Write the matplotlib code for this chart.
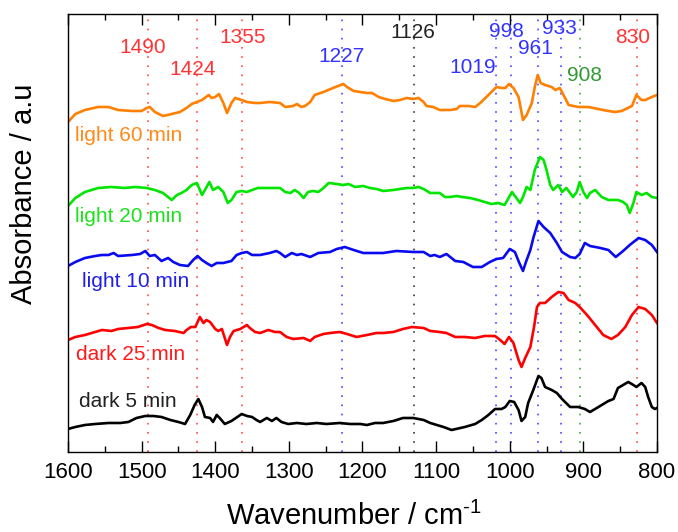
import matplotlib
matplotlib.use("Agg")
import matplotlib.pyplot as plt

plt.rcParams["font.family"] = ["Liberation Sans", "DejaVu Sans"]
plt.rcParams["mathtext.default"] = "regular"

# ---- spectra (wavenumber / cm-1, absorbance in a.u. incl. stacking offset) ----
wn_light60 = [1600, 1590, 1577, 1559, 1545, 1532, 1513, 1500, 1493, 1489, 1482, 1471, 1459, 1448, 1439,
              1432, 1425, 1418, 1409, 1405, 1400, 1395, 1389, 1384, 1378, 1373, 1364, 1357, 1346, 1339,
              1326, 1312, 1305, 1294, 1289, 1283, 1278, 1271, 1265, 1253, 1240, 1226, 1221, 1212, 1203,
              1194, 1187, 1178, 1169, 1158, 1149, 1140, 1131, 1124, 1117, 1113, 1104, 1095, 1081, 1072,
              1068, 1056, 1047, 1040, 1029, 1018, 1011, 1006, 1001, 995, 988, 982, 977, 970, 966,
              962, 958, 952, 943, 938, 932, 927, 920, 907, 893, 880, 866, 857, 848, 834,
              828, 821, 816, 807, 800]
ab_light60 = [3.30, 3.38, 3.42, 3.45, 3.45, 3.42, 3.41, 3.41, 3.44, 3.45, 3.40, 3.36, 3.38, 3.40, 3.44,
              3.48, 3.50, 3.52, 3.57, 3.54, 3.55, 3.58, 3.49, 3.39, 3.49, 3.54, 3.52, 3.50, 3.49, 3.49,
              3.50, 3.49, 3.45, 3.46, 3.48, 3.45, 3.46, 3.50, 3.57, 3.60, 3.64, 3.68, 3.65, 3.61, 3.60,
              3.59, 3.59, 3.55, 3.53, 3.51, 3.52, 3.54, 3.53, 3.54, 3.50, 3.46, 3.45, 3.42, 3.42, 3.43,
              3.46, 3.46, 3.45, 3.49, 3.57, 3.65, 3.64, 3.64, 3.68, 3.64, 3.55, 3.32, 3.37, 3.49, 3.65,
              3.77, 3.69, 3.67, 3.65, 3.62, 3.64, 3.57, 3.47, 3.45, 3.45, 3.43, 3.41, 3.40, 3.41, 3.46,
              3.57, 3.52, 3.52, 3.55, 3.57]

wn_light20 = [1600, 1590, 1577, 1559, 1541, 1523, 1509, 1493, 1482, 1471, 1459, 1452, 1446, 1439, 1432,
              1425, 1418, 1414, 1408, 1403, 1396, 1389, 1383, 1378, 1371, 1364, 1357, 1350, 1342, 1326,
              1312, 1305, 1298, 1292, 1286, 1280, 1274, 1267, 1260, 1253, 1246, 1235, 1226, 1219, 1210,
              1199, 1190, 1181, 1172, 1158, 1149, 1140, 1131, 1124, 1117, 1108, 1095, 1088, 1081, 1072,
              1065, 1054, 1043, 1034, 1025, 1016, 1007, 1003, 997, 991, 986, 982, 977, 972, 966,
              959, 954, 950, 945, 941, 934, 929, 923, 914, 909, 905, 900, 895, 891, 884,
              875, 866, 853, 846, 841, 837, 832, 828, 821, 814, 807, 800]
ab_light20 = [2.46, 2.54, 2.60, 2.64, 2.65, 2.64, 2.65, 2.64, 2.62, 2.59, 2.52, 2.57, 2.59, 2.62, 2.67,
              2.69, 2.57, 2.62, 2.70, 2.62, 2.65, 2.60, 2.49, 2.52, 2.60, 2.61, 2.60, 2.62, 2.64, 2.64,
              2.64, 2.60, 2.59, 2.62, 2.59, 2.54, 2.60, 2.61, 2.60, 2.64, 2.69, 2.68, 2.67, 2.68, 2.65,
              2.66, 2.64, 2.63, 2.61, 2.62, 2.63, 2.64, 2.64, 2.65, 2.63, 2.59, 2.59, 2.55, 2.55, 2.56,
              2.55, 2.54, 2.52, 2.50, 2.48, 2.49, 2.47, 2.52, 2.60, 2.54, 2.49, 2.55, 2.65, 2.62, 2.82,
              2.95, 2.92, 2.82, 2.67, 2.62, 2.67, 2.60, 2.64, 2.55, 2.60, 2.70, 2.60, 2.54, 2.59, 2.62,
              2.55, 2.52, 2.52, 2.50, 2.47, 2.39, 2.49, 2.60, 2.57, 2.59, 2.55, 2.54]

wn_light10 = [1600, 1590, 1577, 1563, 1554, 1545, 1538, 1532, 1513, 1502, 1495, 1489, 1482, 1473, 1464,
              1457, 1448, 1437, 1430, 1424, 1418, 1412, 1405, 1398, 1389, 1378, 1371, 1364, 1357, 1350,
              1339, 1326, 1317, 1312, 1305, 1296, 1289, 1283, 1271, 1260, 1244, 1235, 1224, 1212, 1199,
              1185, 1172, 1154, 1131, 1117, 1108, 1102, 1095, 1086, 1074, 1063, 1050, 1038, 1027, 1018,
              1009, 1000, 993, 987, 982, 978, 972, 968, 961, 954, 945, 936, 929, 918, 911,
              905, 898, 891, 877, 866, 856, 846, 837, 825, 816, 807, 800]
ab_light10 = [1.86, 1.90, 1.94, 1.96, 1.97, 1.97, 1.99, 1.96, 1.97, 1.98, 2.01, 1.96, 1.97, 1.91, 1.94,
              1.90, 1.87, 1.86, 1.92, 1.96, 1.92, 1.89, 1.86, 1.89, 1.89, 1.91, 1.97, 1.99, 2.00, 1.97,
              1.97, 1.99, 2.01, 1.99, 1.95, 1.99, 1.97, 1.98, 1.95, 1.99, 2.00, 2.03, 2.05, 2.02, 1.99,
              1.99, 1.99, 2.01, 2.00, 2.00, 1.96, 1.97, 1.95, 1.98, 1.91, 1.90, 1.85, 1.85, 1.90, 1.93,
              1.94, 2.03, 2.00, 1.89, 1.81, 1.90, 2.02, 2.14, 2.31, 2.25, 2.19, 2.09, 2.00, 1.95, 1.94,
              1.98, 2.09, 2.06, 2.04, 2.02, 1.95, 2.01, 2.07, 2.14, 2.12, 2.07, 2.00]

wn_dark25 = [1600, 1590, 1577, 1563, 1554, 1541, 1532, 1518, 1505, 1493, 1486, 1477, 1468, 1455, 1443,
             1439, 1433, 1427, 1421, 1416, 1412, 1407, 1400, 1396, 1391, 1384, 1380, 1375, 1366, 1357,
             1353, 1346, 1339, 1328, 1319, 1312, 1303, 1294, 1280, 1271, 1265, 1253, 1244, 1231, 1221,
             1208, 1194, 1181, 1172, 1158, 1145, 1133, 1117, 1108, 1095, 1086, 1074, 1061, 1047, 1034,
             1020, 1013, 1007, 1001, 995, 988, 984, 979, 972, 967, 963, 959, 952, 943, 934,
             927, 920, 911, 905, 895, 884, 873, 862, 853, 843, 834, 825, 816, 807, 800]
ab_dark25 = [1.12, 1.15, 1.17, 1.20, 1.22, 1.21, 1.23, 1.24, 1.25, 1.28, 1.27, 1.24, 1.22, 1.21, 1.19,
             1.22, 1.25, 1.25, 1.35, 1.29, 1.32, 1.30, 1.23, 1.21, 1.23, 1.07, 1.15, 1.21, 1.23, 1.27,
             1.24, 1.20, 1.19, 1.22, 1.20, 1.20, 1.15, 1.13, 1.14, 1.11, 1.15, 1.18, 1.19, 1.20, 1.18,
             1.15, 1.17, 1.19, 1.19, 1.20, 1.23, 1.25, 1.24, 1.21, 1.20, 1.19, 1.15, 1.15, 1.14, 1.16,
             1.16, 1.12, 1.08, 1.15, 1.09, 0.92, 0.85, 0.94, 1.05, 1.25, 1.45, 1.49, 1.49, 1.55, 1.60,
             1.59, 1.52, 1.49, 1.45, 1.37, 1.27, 1.17, 1.13, 1.17, 1.25, 1.37, 1.45, 1.43, 1.37, 1.29]

wn_dark5 = [1600, 1590, 1577, 1563, 1545, 1529, 1518, 1507, 1495, 1484, 1473, 1461, 1450, 1441, 1434,
            1428, 1423, 1418, 1414, 1407, 1403, 1398, 1394, 1387, 1378, 1364, 1357, 1350, 1344, 1339,
            1330, 1323, 1317, 1310, 1301, 1289, 1276, 1262, 1249, 1231, 1217, 1203, 1194, 1183, 1172,
            1158, 1145, 1131, 1117, 1108, 1099, 1090, 1079, 1061, 1047, 1038, 1029, 1020, 1011, 1006,
            1000, 994, 988, 984, 979, 975, 968, 961, 957, 952, 943, 936, 929, 918, 907,
            898, 891, 884, 875, 866, 859, 853, 846, 839, 832, 828, 821, 816, 812, 807,
            803, 800]
ab_dark5 = [0.23, 0.25, 0.27, 0.28, 0.29, 0.29, 0.30, 0.34, 0.36, 0.36, 0.35, 0.32, 0.30, 0.28, 0.37,
            0.47, 0.53, 0.45, 0.35, 0.34, 0.30, 0.37, 0.34, 0.28, 0.31, 0.38, 0.36, 0.35, 0.32, 0.30,
            0.34, 0.31, 0.34, 0.30, 0.28, 0.29, 0.28, 0.29, 0.28, 0.29, 0.28, 0.28, 0.27, 0.29, 0.29,
            0.31, 0.34, 0.34, 0.32, 0.29, 0.27, 0.25, 0.22, 0.25, 0.28, 0.32, 0.37, 0.43, 0.43, 0.45,
            0.51, 0.50, 0.42, 0.31, 0.35, 0.49, 0.62, 0.76, 0.74, 0.65, 0.62, 0.59, 0.53, 0.45, 0.45,
            0.43, 0.40, 0.43, 0.47, 0.51, 0.53, 0.64, 0.67, 0.70, 0.67, 0.65, 0.69, 0.65, 0.55, 0.45,
            0.43, 0.44]

# curve names and where their labels sit (left edge wavenumber, centre absorbance)
curve_names = ["light 60 min", "light 20 min", "light 10 min", "dark 25 min", "dark 5 min"]
curve_colors = ["#ff8000", "#00e600", "#0a0af0", "#ff0000", "#000000"]
name_colors = ["#ff8a1a", "#1ee01e", "#2020e6", "#ff1a1a", "#222222"]
name_x = [1590, 1590, 1581, 1589, 1585]
name_y = [3.16, 2.35, 1.70, 0.97, 0.50]

# assigned bands: dotted marker lines and their labels
band_labels = ["1490", "1424", "1355", "1227", "1126", "1019", "998", "961", "933", "908", "830"]
band_lines = [1492, 1425, 1363, 1228, 1130, 1018, 998, 962, 931, 905, 827]
band_colors = ["#ff3333", "#ff3333", "#ff3333", "#3333ff", "#222222", "#3333ff", "#3333ff",
               "#3333ff", "#3333ff", "#339933", "#ff3333"]
band_text_x = [1498, 1431, 1363, 1228, 1131, 1050, 1004, 965, 933, 898, 833]
band_text_y = [4.04, 3.82, 4.14, 3.95, 4.19, 3.84, 4.20, 4.03, 4.23, 3.76, 4.14]


def main():
    fig = plt.figure(figsize=(6.78, 5.32), dpi=100)
    ax = fig.add_axes([0.1003, 0.1504, 0.8687, 0.8233])

    # dotted band markers behind the spectra
    for pos, col in zip(band_lines, band_colors):
        ax.axvline(pos, color=col, lw=1.2, linestyle=(0, (1, 4.5)), alpha=0.9, zorder=1)
    for lab, x, y, col in zip(band_labels, band_text_x, band_text_y, band_colors):
        ax.text(x, y, lab, color=col, fontsize=15, ha="center", va="center", zorder=3)

    spectra = [(wn_light60, ab_light60), (wn_light20, ab_light20), (wn_light10, ab_light10),
               (wn_dark25, ab_dark25), (wn_dark5, ab_dark5)]
    for (wn, ab), col in zip(spectra, curve_colors):
        ax.plot(wn, ab, color=col, lw=1.9, zorder=2)

    for name, x, y, col in zip(curve_names, name_x, name_y, name_colors):
        ax.text(x, y, name, color=col, fontsize=15, ha="left", va="center", zorder=3)

    ax.set_xlim(1600, 800)
    ax.set_ylim(0, 4.38)
    ax.set_yticks([])
    ax.set_xticks(range(1600, 799, -100))
    ax.set_xticks(range(1550, 800, -100), minor=True)
    ax.tick_params(axis="x", which="both", direction="in", top=True, labelsize=16, pad=7, width=1)
    ax.tick_params(axis="x", which="major", length=8)
    ax.tick_params(axis="x", which="minor", length=4)
    for sp in ax.spines.values():
        sp.set_linewidth(1.0)

    # plain hyphen in the superscript, as in the original label
    ax.set_xlabel("Wavenumber / cm$^{\u2010" + "1}$", fontsize=21, va="center")
    ax.xaxis.set_label_coords(0.485, -0.148)
    ax.set_ylabel("Absorbance / a.u", fontsize=21, va="center")
    ax.yaxis.set_label_coords(-0.075, 0.589)

    fig.savefig("out.png", dpi=100)


if __name__ == "__main__":
    main()
